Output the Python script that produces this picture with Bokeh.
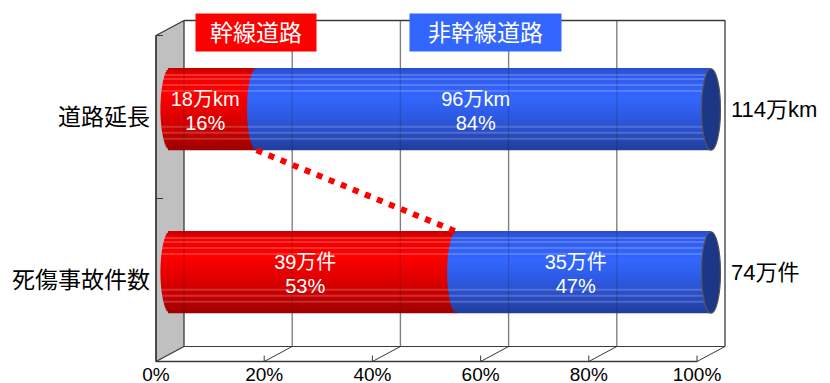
import numpy as np
from bokeh.plotting import figure
from bokeh.models import ColumnDataSource, Range1d
from bokeh.core.properties import value
from bokeh.embed import file_html
from bokeh.resources import INLINE

# ---- data -------------------------------------------------------------
categories = ["道路延長", "死傷事故件数"]
series_names = ["幹線道路", "非幹線道路"]
trunk_amount = [18, 39]          # 万
other_amount = [96, 35]          # 万
trunk_share = [16, 53]           # %
other_share = [84, 47]           # %
amount_units = ["万km", "万件"]
total_amount = [114, 74]
tick_values = [0, 20, 40, 60, 80, 100]
tick_labels = ["0%", "20%", "40%", "60%", "80%", "100%"]

# ---- geometry of the pseudo-3D box -----------------------------------
W, H = 830, 383
PX_X = 5.41            # screen px per percent
PX_Y = 163.0           # screen px per category step
X0_PX, Y0_PX = 169.5, 272.0   # screen position of (0 %, first category)
DX = 28 / PX_X         # box depth, x component
DY = 15 / PX_Y         # box depth, y component
HX, HY = DX / 2, DY / 2
BAR_H = 0.5
CAP_W = 19 / PX_X
FLOOR, CEIL = -0.5, 1.5

FONT = value("Liberation Sans, Noto Sans CJK JP")
EDGE = "#3a3a3a"
GRID = "#808080"


def sx(px):
    return (px - X0_PX) / PX_X


def sy(py):
    return (Y0_PX - py) / PX_Y


p = figure(width=W, height=H, output_backend="svg", toolbar_location=None,
           x_range=Range1d(sx(0), sx(W)), y_range=Range1d(sy(H), sy(0)),
           min_border=0, x_axis_location=None, y_axis_location=None,
           outline_line_color=None, background_fill_color="white",
           border_fill_color="white")
p.grid.visible = False

# ---- walls and floor ---------------------------------------------------
# left side wall
p.patch([-HX, HX, HX, -HX], [FLOOR - HY, FLOOR + HY, CEIL + HY, CEIL - HY],
        fill_color="#c0c0c0", line_color=EDGE, line_width=1.3)

# back-wall gridlines
inner = tick_values[1:-1]
p.segment(x0=[t + HX for t in inner], y0=[FLOOR + HY] * len(inner),
          x1=[t + HX for t in inner], y1=[CEIL + HY] * len(inner),
          line_color=GRID, line_width=1.4)
# back-wall frame (right edge and top edge)
p.line([HX, 100 + HX, 100 + HX], [CEIL + HY, CEIL + HY, FLOOR + HY],
       line_color=EDGE, line_width=1.3)

# floor: back edge, front edge, depth lines and front ticks
p.line([HX, 100 + HX], [FLOOR + HY] * 2, line_color=EDGE, line_width=1.2)
p.line([-HX, 100 - HX], [FLOOR - HY] * 2, line_color=EDGE, line_width=1.4)
p.segment(x0=[t - HX for t in tick_values[1:]], y0=[FLOOR - HY] * 5,
          x1=[t + HX for t in tick_values[1:]], y1=[FLOOR + HY] * 5,
          line_color=EDGE, line_width=1.0)
p.segment(x0=[t - HX for t in tick_values[1:]], y0=[FLOOR - HY] * 5,
          x1=[t - HX for t in tick_values[1:]],
          y1=[FLOOR - HY + 6 / PX_Y] * 5,
          line_color=EDGE, line_width=1.0)
# front-left edge with category boundary ticks
p.line([-HX, -HX], [FLOOR - HY, CEIL - HY], line_color=EDGE, line_width=1.4)
bounds = [FLOOR, FLOOR + 1, CEIL]
p.segment(x0=[-HX] * 3, y0=[b - HY for b in bounds],
          x1=[-HX + 7 / PX_X] * 3, y1=[b - HY for b in bounds],
          line_color=EDGE, line_width=1.2)

# ---- cylinders -----------------------------------------------------------
RED_STOPS = [(0.0, "#c80000"), (0.08, "#ee0000"), (0.3, "#ff0000"),
             (0.55, "#e40000"), (0.8, "#c40000"), (1.0, "#a00000")]
BLUE_STOPS = [(0.0, "#2a4ed0"), (0.1, "#305cec"), (0.35, "#3366ff"),
              (0.6, "#2d5ae2"), (0.85, "#2849bc"), (1.0, "#21409e")]
STRIPES = {3, 5, 8, 11, 29, 32, 35}


def hex_rgb(h):
    return np.array([int(h[i:i + 2], 16) for i in (1, 3, 5)], float)


def shade(stops, s, light=False):
    pos = [a for a, _ in stops]
    cols = np.array([hex_rgb(c) for _, c in stops])
    rgb = np.array([np.interp(s, pos, cols[:, k]) for k in range(3)])
    if light:
        rgb = rgb + (255 - rgb) * 0.18
    return "#%02x%02x%02x" % tuple(int(round(v)) for v in rgb)


N = 41
edges = np.linspace(1, -1, N + 1)
mids = (edges[:-1] + edges[1:]) / 2
y_pos = [len(categories) - 1 - i for i in range(len(categories))]

strips = dict(left=[], right=[], bottom=[], top=[], color=[])
for i, yc in enumerate(y_pos):
    segs = [(0, trunk_share[i], RED_STOPS),
            (trunk_share[i], trunk_share[i] + other_share[i], BLUE_STOPS)]
    for x0, x1, stops in segs:
        for k in range(N):
            ext = CAP_W / 2 * np.sqrt(max(0.0, 1 - mids[k] ** 2))
            strips["left"].append(x0 - ext)
            strips["right"].append(x1)
            strips["bottom"].append(yc + edges[k + 1] * BAR_H / 2)
            strips["top"].append(yc + edges[k] * BAR_H / 2 + 0.004)
            strips["color"].append(shade(stops, k / (N - 1), k in STRIPES))

p.quad(left="left", right="right", bottom="bottom", top="top",
       fill_color="color", line_color=None, source=ColumnDataSource(strips))

# end caps of the bars
p.ellipse(x=[a + b for a, b in zip(trunk_share, other_share)], y=y_pos,
          width=CAP_W, height=BAR_H, fill_color="#1c3785",
          line_color="#555555", line_width=1.2)

# back gridlines showing faintly through the bars
grid_x = [t + HX for t in tick_values[:-1]]
gx0, gy0, gy1 = [], [], []
for yc in y_pos:
    for gx in grid_x:
        gx0.append(gx)
        gy0.append(yc - BAR_H / 2)
        gy1.append(yc + BAR_H / 2)
p.segment(x0=gx0, y0=gy0, x1=gx0, y1=gy1, line_color="#202020",
          line_alpha=0.22, line_width=1.3)

# dotted connector between the trunk-road shares
p.line([trunk_share[0], trunk_share[1]],
       [y_pos[0] - BAR_H / 2, y_pos[1] + BAR_H / 2],
       line_color="#ff0000", line_width=6, line_dash="6 7")

# ---- labels ------------------------------------------------------------
lab = dict(x=[], y1=[], y2=[], amt=[], pct=[])
for i, yc in enumerate(y_pos):
    for x0, amt, pct in [(0, trunk_amount[i], trunk_share[i]),
                         (trunk_share[i], other_amount[i], other_share[i])]:
        lab["x"].append(x0 + pct / 2 - 1.5)
        lab["y1"].append(yc + 11 / PX_Y)
        lab["y2"].append(yc - 13 / PX_Y)
        lab["amt"].append(f"{amt}{amount_units[i]}")
        lab["pct"].append(f"{pct}%")
src = ColumnDataSource(lab)
p.text(x="x", y="y1", text="amt", source=src, text_color="white",
       text_font=FONT, text_font_size="20px", text_align="center",
       text_baseline="middle")
p.text(x="x", y="y2", text="pct", source=src, text_color="white",
       text_font=FONT, text_font_size="20px", text_align="center",
       text_baseline="middle")

# totals to the right of each bar
p.text(x=[100] * 2, y=y_pos,
       text=[f"{t}{u}" for t, u in zip(total_amount, amount_units)],
       x_offset=20, text_font=FONT, text_font_size="22px",
       text_color="black", text_align="left", text_baseline="middle")

# category names on the front-left edge
p.text(x=[-HX] * 2, y=[yc - HY for yc in y_pos], text=categories,
       x_offset=-6, text_font=FONT, text_font_size="23px",
       text_color="black", text_align="right", text_baseline="middle")

# percentage scale on the front floor edge
p.text(x=[t - HX for t in tick_values], y=[FLOOR - HY] * len(tick_values),
       text=tick_labels, y_offset=2, text_font=FONT, text_font_size="19px",
       text_color="black", text_align="center", text_baseline="top")

# series key boxes
key_box = [(195, 316), (409, 561)]
key_colors = ["#ff0000", "#3366ff"]
p.quad(left=[sx(a) for a, _ in key_box], right=[sx(b) for _, b in key_box],
       bottom=[sy(51)] * 2, top=[sy(13)] * 2, fill_color=key_colors,
       line_color=None)
p.text(x=[sx((a + b) / 2) for a, b in key_box], y=[sy(32)] * 2,
       text=series_names, text_font=FONT, text_font_size="23px",
       text_color="white", text_align="center", text_baseline="middle")

open("out.html", "w").write(file_html(p, INLINE))
